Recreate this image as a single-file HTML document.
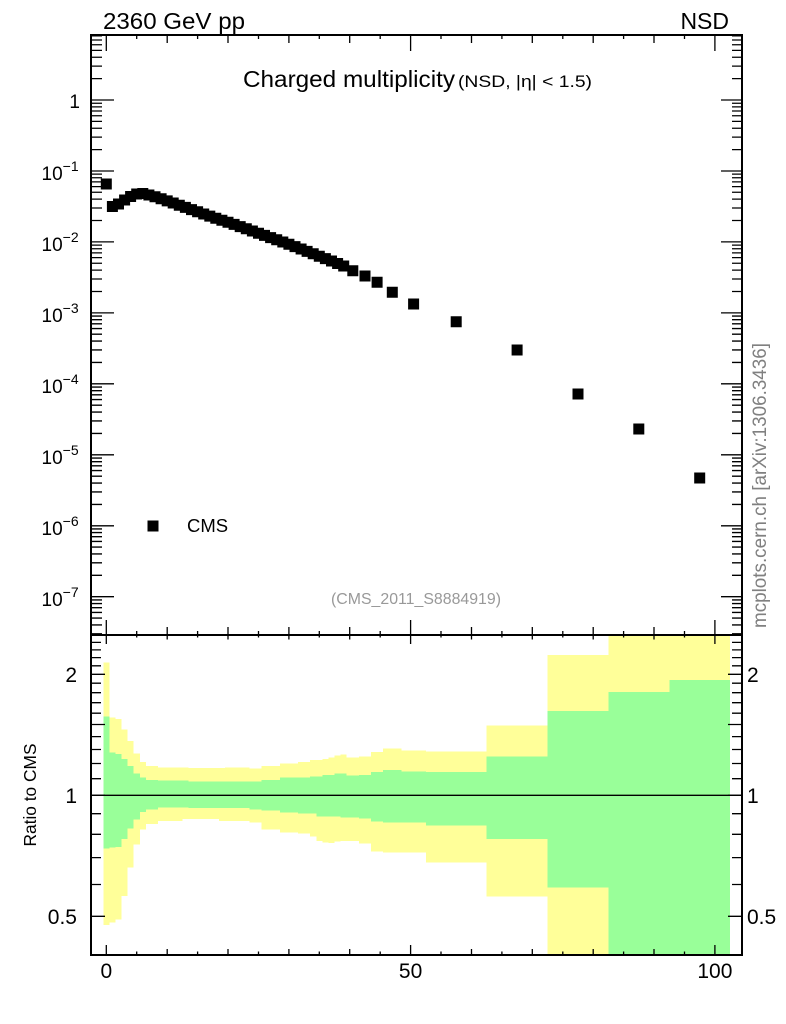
<!DOCTYPE html>
<html>
<head>
<meta charset="utf-8">
<style>
html,body{margin:0;padding:0;background:#fff;}
svg{display:block;}
text{font-family:"Liberation Sans",Arial,sans-serif;}
</style>
</head>
<body>
<svg width="786" height="1024" viewBox="0 0 786 1024" xmlns="http://www.w3.org/2000/svg" xmlns:xlink="http://www.w3.org/1999/xlink">
<rect x="0" y="0" width="786" height="1024" fill="#fff"/>
<defs>
<clipPath id="rc"><rect x="91" y="635" width="651" height="320"/></clipPath>
<clipPath id="mc"><rect x="91" y="36" width="651" height="599"/></clipPath>
<path id="mL" d="M91,-21.37h11 M91,-33.88h11 M91,-42.75h11 M91,-49.63h11 M91,-55.25h11 M91,-60h11 M91,-64.12h11 M91,-67.75h11 M91,0h23"/>
<path id="mR" d="M742,-21.37h-10 M742,-33.88h-10 M742,-42.75h-10 M742,-49.63h-10 M742,-55.25h-10 M742,-60h-10 M742,-64.12h-10 M742,-67.75h-10 M742,0h-21"/>
</defs>

<g clip-path="url(#rc)" shape-rendering="crispEdges">
<path fill="#ffff99" d="M103.3,662.3 H109.4 V717.7 H115.5 V719 H121.6 V729.3 H127.6 V741 H133.7 V753.3 H139.8 V762 H145.9 V766 H158.1 V767.3 H188.5 V768 H225 V767.3 H249.4 V768.7 H261.5 V766 H279.8 V763.3 H298.1 V762 H310.2 V760 H322.4 V759 H328.5 V757.3 H334.6 V755.3 H340.7 V754.3 H346.7 V757.7 H358.9 V756.7 H371 V752 H383.2 V748.7 H401.5 V750.3 H425.8 V751.3 H486.7 V725.3 H547.5 V655 H608.4 V630 H730.1 V960 H547.5 V896.7 H486.7 V862.7 H425.8 V852.7 H383.2 V851.3 H371 V843.7 H358.9 V841 H340.7 V841.7 H334.6 V843 H328.5 V842.3 H322.4 V841 H316.3 V836.7 H310.2 V833.3 H298.1 V832.7 H279.8 V829.3 H261.5 V822.7 H249.4 V821 H218.9 V819 H182.4 V821 H158.1 V824 H145.9 V829.3 H139.8 V844.7 H133.7 V867.7 H127.6 V896 H121.6 V919.3 H115.5 V922.3 H109.4 V925 H103.3 Z"/>
<path fill="#99ff99" d="M103.3,716.7 H109.4 V752.3 H115.5 V754 H121.6 V759 H127.6 V766 H133.7 V773.3 H139.8 V777.7 H145.9 V780 H158.1 V780.7 H188.5 V781.3 H249.4 V781.7 H261.5 V780 H279.8 V777.3 H298.1 V777.7 H310.2 V776.7 H322.4 V775 H334.6 V773.7 H346.7 V775.7 H358.9 V775 H371 V772 H383.2 V770 H401.5 V771.3 H425.8 V772 H486.7 V756.5 H547.5 V711 H608.4 V692 H669.3 V680 H730.1 V960 H608.4 V887.7 H547.5 V839.2 H486.7 V825.7 H425.8 V822.3 H383.2 V821.7 H371 V818.3 H358.9 V817.3 H340.7 V816.7 H316.3 V813.7 H298.1 V812.7 H279.8 V810.7 H261.5 V809.3 H249.4 V808 H188.5 V807.3 H158.1 V809.3 H145.9 V812 H139.8 V819.3 H133.7 V828.3 H127.6 V839 H121.6 V847 H115.5 V847.3 H109.4 V848.7 H103.3 Z"/>
</g>
<line x1="91" y1="795.3" x2="742" y2="795.3" stroke="#000" stroke-width="1.3"/>

<path fill="#000" d="M100.8,178.5h11v11h-11z M106.9,201h11v11h-11z M113,198.5h11v11h-11z M119.1,194.5h11v11h-11z M125.1,191h11v11h-11z M131.2,188.5h11v11h-11z M137.3,188h11v11h-11z M143.4,189.5h11v11h-11z M149.5,191.3h11v11h-11z M155.6,193.3h11v11h-11z M161.7,195.4h11v11h-11z M167.7,197.5h11v11h-11z M173.8,199.7h11v11h-11z M179.9,201.9h11v11h-11z M186,204.1h11v11h-11z M192.1,206.3h11v11h-11z M198.2,208.5h11v11h-11z M204.3,210.6h11v11h-11z M210.3,212.7h11v11h-11z M216.4,214.8h11v11h-11z M222.5,216.8h11v11h-11z M228.6,218.9h11v11h-11z M234.7,221.1h11v11h-11z M240.8,223.3h11v11h-11z M246.9,225.5h11v11h-11z M253,227.7h11v11h-11z M259,229.9h11v11h-11z M265.1,232.1h11v11h-11z M271.2,234.3h11v11h-11z M277.3,236.5h11v11h-11z M283.4,238.7h11v11h-11z M289.5,241.1h11v11h-11z M295.6,243.5h11v11h-11z M301.6,245.9h11v11h-11z M307.7,248.3h11v11h-11z M313.8,250.7h11v11h-11z M319.9,253.1h11v11h-11z M326,255.5h11v11h-11z M332.1,258h11v11h-11z M338.2,260.5h11v11h-11z M347.3,265.2h11v11h-11z M359.5,270.5h11v11h-11z M371.6,276.8h11v11h-11z M386.8,286.8h11v11h-11z M408.1,298.5h11v11h-11z M450.7,316.2h11v11h-11z M511.6,344.5h11v11h-11z M572.5,388.5h11v11h-11z M633.3,423.5h11v11h-11z M694.2,472.5h11v11h-11z M147.5,520.5h11v11h-11z"/>

<g stroke="#000" stroke-width="1.3" fill="none">
<path d="M106.3,35v16 M136.7,35v4 M167.2,35v8 M197.6,35v4 M228,35v8 M258.5,35v4 M288.9,35v8 M319.3,35v4 M349.7,35v8 M380.2,35v4 M410.6,35v16 M441,35v4 M471.5,35v8 M501.9,35v4 M532.3,35v8 M562.8,35v4 M593.2,35v8 M623.6,35v4 M654,35v8 M684.5,35v4 M714.9,35v16"/>
<path d="M106.3,635v-15 M136.7,635v-4 M167.2,635v-8 M197.6,635v-4 M228,635v-8 M258.5,635v-4 M288.9,635v-8 M319.3,635v-4 M349.7,635v-8 M380.2,635v-4 M410.6,635v-15 M441,635v-4 M471.5,635v-8 M501.9,635v-4 M532.3,635v-8 M562.8,635v-4 M593.2,635v-8 M623.6,635v-4 M654,635v-8 M684.5,635v-4 M714.9,635v-15"/>
<path d="M106.3,635v9 M136.7,635v2.5 M167.2,635v4.5 M197.6,635v2.5 M228,635v4.5 M258.5,635v2.5 M288.9,635v4.5 M319.3,635v2.5 M349.7,635v4.5 M380.2,635v2.5 M410.6,635v9 M441,635v2.5 M471.5,635v4.5 M501.9,635v2.5 M532.3,635v4.5 M562.8,635v2.5 M593.2,635v4.5 M623.6,635v2.5 M654,635v4.5 M684.5,635v2.5 M714.9,635v9"/>
<path d="M106.3,955v-10 M136.7,955v-3.5 M167.2,955v-6 M197.6,955v-3.5 M228,955v-6 M258.5,955v-3.5 M288.9,955v-6 M319.3,955v-3.5 M349.7,955v-6 M380.2,955v-3.5 M410.6,955v-10 M441,955v-3.5 M471.5,955v-6 M501.9,955v-3.5 M532.3,955v-6 M562.8,955v-3.5 M593.2,955v-6 M623.6,955v-3.5 M654,955v-6 M684.5,955v-3.5 M714.9,955v-10"/>
<g clip-path="url(#mc)">
<use xlink:href="#mL" href="#mL" y="100"/>
<use xlink:href="#mL" href="#mL" y="171"/>
<use xlink:href="#mL" href="#mL" y="241.9"/>
<use xlink:href="#mL" href="#mL" y="312.9"/>
<use xlink:href="#mL" href="#mL" y="383.8"/>
<use xlink:href="#mL" href="#mL" y="454.8"/>
<use xlink:href="#mL" href="#mL" y="525.8"/>
<use xlink:href="#mL" href="#mL" y="596.7"/>
<use xlink:href="#mL" href="#mL" y="667.7"/>
<use xlink:href="#mR" href="#mR" y="100"/>
<use xlink:href="#mR" href="#mR" y="171"/>
<use xlink:href="#mR" href="#mR" y="241.9"/>
<use xlink:href="#mR" href="#mR" y="312.9"/>
<use xlink:href="#mR" href="#mR" y="383.8"/>
<use xlink:href="#mR" href="#mR" y="454.8"/>
<use xlink:href="#mR" href="#mR" y="525.8"/>
<use xlink:href="#mR" href="#mR" y="596.7"/>
<use xlink:href="#mR" href="#mR" y="667.7"/>
</g>
<path d="M91,916.3h14 M91,795.3h14 M91,724.5h14 M91,674.3h14 M91,884.5h10 M91,857.6h10 M91,834.3h10 M91,813.7h10 M91,778.7h10 M91,763.5h10 M91,749.5h10 M91,736.6h10 M91,713.2h10 M91,702.7h10 M91,692.7h10 M91,683.2h10 M91,665.8h10 M91,657.6h10 M91,649.9h10 M91,642.4h10"/>
<path d="M742,916.3h-14 M742,795.3h-14 M742,724.5h-14 M742,674.3h-14 M742,884.5h-10 M742,857.6h-10 M742,834.3h-10 M742,813.7h-10 M742,778.7h-10 M742,763.5h-10 M742,749.5h-10 M742,736.6h-10 M742,713.2h-10 M742,702.7h-10 M742,692.7h-10 M742,683.2h-10 M742,665.8h-10 M742,657.6h-10 M742,649.9h-10 M742,642.4h-10"/>
</g>

<rect x="91" y="35" width="651" height="600" fill="none" stroke="#000" stroke-width="2"/>
<rect x="91" y="635" width="651" height="320" fill="none" stroke="#000" stroke-width="2"/>

<text x="103" y="29" font-size="23" textLength="142" lengthAdjust="spacingAndGlyphs">2360 GeV pp</text>
<text x="729" y="29" font-size="23" text-anchor="end">NSD</text>
<text x="243" y="87" font-size="23.5" textLength="212" lengthAdjust="spacingAndGlyphs">Charged multiplicity</text>
<text x="458" y="87" font-size="17" textLength="134" lengthAdjust="spacingAndGlyphs">(NSD, |η| &lt; 1.5)</text>

<text x="187" y="532" font-size="18.5">CMS</text>
<text x="331" y="604" font-size="16" fill="#999" textLength="170" lengthAdjust="spacingAndGlyphs">(CMS_2011_S8884919)</text>

<g font-size="19">
<text x="80" y="108" text-anchor="end">1</text>
<text x="41.5" y="180">10<tspan font-size="14" dy="-9">−1</tspan></text>
<text x="41.5" y="251">10<tspan font-size="14" dy="-9">−2</tspan></text>
<text x="41.5" y="322">10<tspan font-size="14" dy="-9">−3</tspan></text>
<text x="41.5" y="393">10<tspan font-size="14" dy="-9">−4</tspan></text>
<text x="41.5" y="464">10<tspan font-size="14" dy="-9">−5</tspan></text>
<text x="41.5" y="535">10<tspan font-size="14" dy="-9">−6</tspan></text>
<text x="41.5" y="606">10<tspan font-size="14" dy="-9">−7</tspan></text>
</g>

<g font-size="21">
<text x="77" y="682" text-anchor="end">2</text>
<text x="77" y="803" text-anchor="end">1</text>
<text x="77" y="924" text-anchor="end">0.5</text>
<text x="747" y="682">2</text>
<text x="747" y="803">1</text>
<text x="747" y="924">0.5</text>
</g>

<g font-size="21" text-anchor="middle">
<text x="106.3" y="978">0</text>
<text x="410.6" y="978">50</text>
<text x="714.9" y="978">100</text>
</g>

<text transform="translate(36,846.5) rotate(-90)" font-size="17.5" textLength="103" lengthAdjust="spacingAndGlyphs">Ratio to CMS</text>
<text transform="translate(766,628) rotate(-90)" font-size="19" fill="#808080" textLength="285" lengthAdjust="spacingAndGlyphs">mcplots.cern.ch [arXiv:1306.3436]</text>
</svg>
</body>
</html>
